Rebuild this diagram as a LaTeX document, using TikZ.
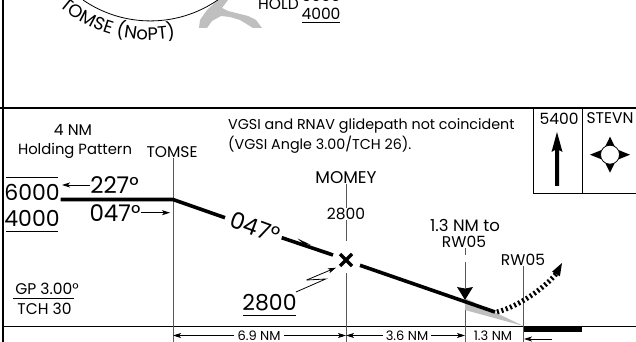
\documentclass[tikz,border=0pt]{standalone}
\usepackage{fontspec}
\setmainfont{Poppins}
\usetikzlibrary{arrows.meta,decorations.text}
\tikzset{
    biglbl/.style={inner sep=0pt, font=\fontsize{22}{22}\selectfont},
    midlbl/.style={inner sep=0pt, font=\fontsize{15.5}{15.5}\selectfont},
    notelbl/.style={inner sep=0pt, font=\fontsize{14.3}{14.3}\selectfont},
    dimlbl/.style={inner sep=3pt, font=\fontsize{13}{13}\selectfont},
    glide/.style={line width=3.6pt},
    fixline/.style={line width=1pt, black!65},
    thinline/.style={line width=0.8pt},
    frameline/.style={line width=2.4pt}
}
\begin{document}
\begin{tikzpicture}[>={Stealth[length=8pt,width=5pt,inset=2pt]}, x=1pt, y=1pt]
    \useasboundingbox (0,0) rectangle (636,342);
    \clip (0,0) rectangle (636,342);

    % the lake at the top of the plan view
    \fill[black!25] (218,342) -- (207,332) -- (200,322) -- (199,314) -- (207,314) -- (212,321) -- (221,326) -- (230,325) -- (240,322) -- (253,314) -- (262,314) -- (256,322) -- (248,326) -- (228,331) -- (222,334) -- (228,342) -- cycle;
    % the arc and the text that follows it
    \draw[thinline] (83,342) arc [start angle=235.5, end angle=304.5, radius=119];
    \path[decorate, decoration={text along path, text={|\fontsize{18}{18}\selectfont|TOMSE (NoPT)}}]
        (150,440) ++(229:138) arc [start angle=229, end angle=290, radius=138];

    % the hold altitudes at the top
    \node[midlbl, anchor=base east] (hold) at (299,332) {HOLD};
    \node[midlbl, anchor=base] (holdtop) at (321,340) {6000};
    \node[midlbl, anchor=base] (holdlow) at (321,322) {4000};
    \draw[thinline] (302,320) -- (340,320);

    % the frame lines
    \draw[frameline] (3,0) -- (3,342);
    \draw[frameline] (0,234) -- (636,234);
    \draw[thinline] (3,15.5) -- (636,15.5);

    % the minimum altitude box
    \draw[thinline] (533,234) -- (533,149) -- (636,149);
    \draw[thinline] (582.5,234) -- (582.5,149);
    \node[midlbl] (msa) at (559,223.5) {5400};
    \node[midlbl] (stevn) at (610,223.5) {STEVN};
    % the north arrow
    \coordinate (northtip) at (557,210);
    \fill (northtip) -- (562.5,190) -- (559,192) -- (559,156) -- (555,156) -- (555,192) -- (551.5,190) -- cycle;
    % the star of the fix
    \coordinate (star) at (610,187.3);
    \begin{scope}[shift={(star)}]
        \foreach \a/\r in {0/20, 90/18, 180/20, 270/18}
            \fill (\a-28:9.8) -- (\a:\r) -- (\a+28:9.8) -- cycle;
        \draw[thinline, fill=white] (0,0) circle [radius=9.5];
    \end{scope}

    % the texts over the profile
    \node[notelbl, anchor=base west] (note1) at (228,212.5) {VGSI and RNAV glidepath not coincident};
    \node[notelbl, anchor=base west] (note2) at (228,192) {(VGSI Angle 3.00/TCH 26).};
    \node[midlbl] (holdnm) at (73,212.5) {4 NM};
    \node[midlbl, font=\fontsize{14.8}{14.8}\selectfont] (holdpat) at (75,191) {Holding Pattern};
    \node[midlbl] (tomse) at (172,190) {TOMSE};
    \node[midlbl, font=\fontsize{17}{17}\selectfont] (momey) at (346,164.5) {MOMEY};
    \node[midlbl] (momeyalt) at (346,128) {2800};
    \node[midlbl, font=\fontsize{16.5}{16.5}\selectfont] (vdp1) at (465,117) {1.3 NM to};
    \node[midlbl] (vdp2) at (464,100) {RW05};
    \node[midlbl] (rwlbl) at (523,82) {RW05};

    % the holding altitudes and courses
    \node[biglbl] (alta) at (32,149.5) {6000};
    \node[biglbl] (altb) at (32,124) {4000};
    \draw[thinline] (6,165) -- (58,165);
    \draw[thinline] (6,111) -- (58,111);
    \node[biglbl, font=\fontsize{23}{23}\selectfont] (crsa) at (114.5,156.5) {227°};
    \node[biglbl, font=\fontsize{23}{23}\selectfont] (crsb) at (115,129) {047°};
    \coordinate (crsatip) at (62,157);
    \coordinate (crsbtip) at (170,129.3);
    \draw[->, thinline] (crsa.west |- crsatip) -- (crsatip);
    \draw[->, thinline] (crsb.east |- crsbtip) -- (crsbtip);

    % the glidepath box
    \node[midlbl] (gp) at (47,53.5) {GP 3.00°};
    \node[midlbl] (tch) at (44.5,33.5) {TCH 30};
    \draw[thinline] (13,43.3) -- (74,43.3);

    % the vertical lines of the fixes
    \coordinate (fixa) at (173,142.5);
    \coordinate (fixb) at (346,82);
    \coordinate (fixc) at (465,42);
    \coordinate (fixd) at (523.5,16);
    \draw[fixline] (tomse.south -| fixa) -- (173,0);
    \draw[fixline] (momey.south) -- (momeyalt.north);
    \draw[fixline] (momeyalt.south) -- ++(0,-21);
    \draw[fixline] (346,69) -- (346,0);
    \draw[fixline] (vdp2.south -| fixc) -- ++(0,-7);
    \draw[fixline] (465,80) -- (465,54);
    \draw[fixline] (465,41) -- (465,0);
    \draw[fixline] (rwlbl.south -| fixd) -- (523.5,0);

    % the gray wedge under the path
    \fill[black!25] (465,44) -- (fixd) -- (465,32) -- cycle;

    % the thick descent path, broken for its course
    \node[biglbl, font=\fontsize{23}{23}\selectfont, rotate=-20] (crsc) at (255,114.5) {047°};
    \coordinate (holdend) at (60.7,142.5);
    \coordinate (patha) at (225,124.3);
    \coordinate (pathb) at (281.7,104.3);
    \coordinate (pathc) at (333,87);
    \coordinate (pathd) at (360,76.7);
    \coordinate (pathe) at (495,30);
    \draw[glide] (holdend) -- (fixa) -- (patha);
    \draw[glide] (pathb) -- (pathc);
    \draw[glide] (pathd) -- (pathe);
    % the barb on the path
    \fill (297.5,103.5) -- (311,97) -- (303,98.5) -- cycle;
    % the crossing at the fix
    \draw[line width=3.4pt] (fixb) ++(-6,-6) -- ++(12,12);
    \draw[line width=3.4pt] (fixb) ++(-6,6) -- ++(12,-12);

    % the marker of the visual descent point
    \fill (457,55) -- (465,53.5) -- (473,55) -- (465,42) -- cycle;

    % the dotted path past the runway
    \draw[line width=5pt, dash pattern=on 2pt off 2.6pt] (497,30) .. controls (520,36) and (545,55) .. (556,68);
    \fill (562,79) -- (559.9,65.7) -- (552.1,70.3) -- cycle;

    % the altitude with its bent arrow
    \node[biglbl] (ftalt) at (269.5,39) {2800};
    \draw[thinline] (243,26.7) -- (296,26.7);
    \coordinate (bolta) at (325.7,63);
    \coordinate (boltb) at (306.7,62);
    \coordinate (boltc) at (336,74.3);
    \draw[thinline] (296,50) -- (bolta) -- (boltb);
    \draw[->, thinline] (boltb) -- (boltc);

    % the runway
    \fill (fixd) rectangle (582,9.5);

    % the distances
    \node[dimlbl] (dima) at (259,6.5) {6.9 NM};
    \node[dimlbl] (dimb) at (407,6.5) {3.6 NM};
    \node[dimlbl] (dimc) at (493,6.5) {1.3 NM};
    \draw[->, thinline] (dima) -- (173,6.5);
    \draw[->, thinline] (dima) -- (346,6.5);
    \draw[->, thinline] (dimb) -- (346,6.5);
    \draw[->, thinline] (dimb) -- (465,6.5);
    \draw[<-, thinline] (524,3) -- (552,3);
\end{tikzpicture}
\end{document}
